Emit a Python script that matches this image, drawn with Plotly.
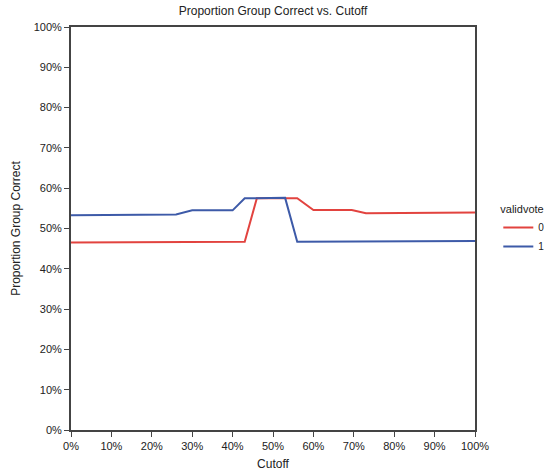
import plotly.graph_objects as go

# Cutoff values (x) and proportion of group correct per validvote group
cutoff_0 = [0.0, 0.20, 0.43, 0.46, 0.56, 0.60, 0.695, 0.73, 0.90, 1.0]
correct_0 = [0.465, 0.466, 0.467, 0.575, 0.575, 0.546, 0.546, 0.538, 0.539, 0.540]

cutoff_1 = [0.0, 0.20, 0.26, 0.30, 0.40, 0.43, 0.53, 0.56, 0.80, 1.0]
correct_1 = [0.533, 0.534, 0.535, 0.545, 0.545, 0.575, 0.576, 0.467, 0.468, 0.469]

groups = ['0', '1']
colors = ['#e2433f', '#3d5aa8']

fig = go.Figure()
for name, xs, ys, col in zip(groups, [cutoff_0, cutoff_1], [correct_0, correct_1], colors):
    fig.add_trace(go.Scatter(x=xs, y=ys, mode='lines', name=name,
                             line=dict(color=col, width=2)))

axis_style = dict(showgrid=False, zeroline=False, showline=True, linecolor='#444',
                  linewidth=2, mirror=True, ticks='outside', ticklen=5,
                  tickcolor='#444', tickformat='.0%', dtick=0.1, range=[0, 1],
                  automargin=False, tickfont=dict(size=11, color='#222'))

fig.update_layout(
    width=544, height=473,
    margin=dict(l=71, r=69, t=27, b=43),
    paper_bgcolor='white', plot_bgcolor='white',
    font=dict(family='Liberation Sans, Arial, sans-serif', color='#222'),
    title=dict(text='Proportion Group Correct vs. Cutoff', x=0.5, xref='paper',
               y=0.985, yanchor='top', font=dict(size=12)),
    xaxis=dict(title=dict(text='Cutoff', font=dict(size=12), standoff=8), **axis_style),
    yaxis=dict(title=dict(text='Proportion Group Correct', font=dict(size=12), standoff=10), **axis_style),
    # legend placed against the whole figure so it does not push the right margin
    legend=dict(title=dict(text='validvote', font=dict(size=11)),
                xref='container', yref='container', x=0.916, y=0.58,
                xanchor='left', yanchor='top', font=dict(size=10)),
)

page_fix = """
document.documentElement.style.overflow='hidden';
document.body.style.margin='0';
"""
fig.write_html('out.html', post_script=page_fix, config={'displayModeBar': False})
